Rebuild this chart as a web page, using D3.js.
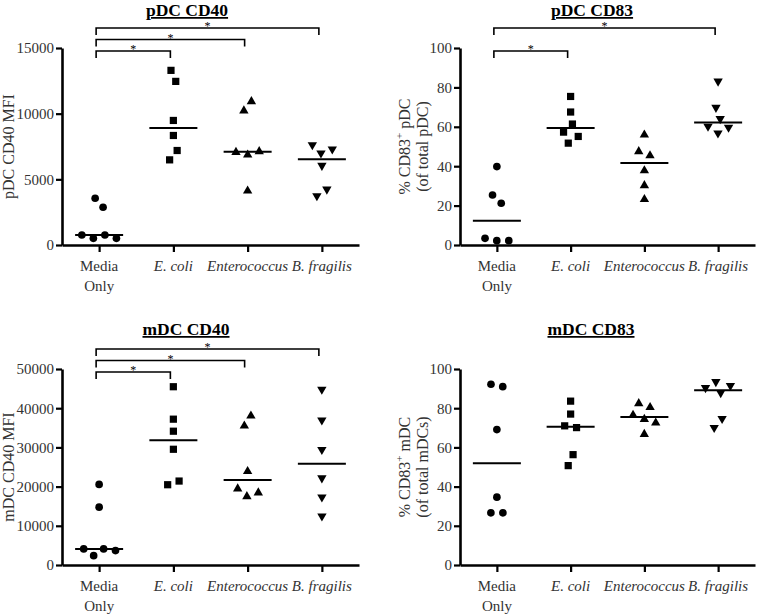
<!DOCTYPE html>
<html><head><meta charset="utf-8">
<script src="https://cdn.jsdelivr.net/npm/d3@7"></script>
<style>body{margin:0;background:#fff}</style>
</head><body><svg id="c" width="758" height="614"></svg>
<script>
// ---------- data ----------
const categories = ["Media Only", "E. coli", "Enterococcus", "B. fragilis"];
const italicCategory = [false, true, true, true];

// each list: values per category, in left-to-right order as drawn
const pdcCD40 = [
  [763, 3559, 508, 2873, 508, 763],
  [13297, 6483, 9483, 8339, 12458, 7195],
  [7068, 10220, 6864, 4119, 10932, 7119],
  [7627, 3737, 6992, 6051, 4246, 7297]
];
const pdcCD83 = [
  [3.4, 25.4, 39.8, 2.2, 21.2, 2.2],
  [57.3, 51.7, 75.4, 67.5, 61.4, 55.1],
  [47.5, 55.9, 37.8, 30.2, 23.2, 45.4],
  [60.2, 83.1, 69.8, 64.1, 56.8, 59.7]
];
const mdcCD40 = [
  [4096, 2389, 20563, 14761, 3669, 4096],
  [20478, 45478, 37201, 34130, 29522, 21416],
  [19454, 35495, 23891, 17491, 38055, 18430],
  [44795, 36945, 29437, 22184, 17321, 12457]
];
const mdcCD83 = [
  [92.2, 26.6, 69.1, 34.6, 91.0, 26.6],
  [71.0, 50.7, 83.6, 77.0, 70.1, 56.3],
  [76.5, 66.7, 82.4, 74.4, 72.5, 80.4],
  [93.5, 90.4, 70.1, 87.9, 74.7, 91.5]
];

const pdcCD40Ticks = [0, 5000, 10000, 15000];
const mdcCD40Ticks = [0, 10000, 20000, 30000, 40000, 50000];
const pctTicks = [0, 20, 40, 60, 80, 100];

// significant comparisons (category index pairs), marked "*"
const pdcCD40Sig = [[0, 1], [0, 2], [0, 3]];
const pdcCD83Sig = [[0, 1], [0, 3]];
const mdcCD40Sig = [[0, 1], [0, 2], [0, 3]];
const mdcCD83Sig = [];

const titles = ["pDC CD40", "pDC CD83", "mDC CD40", "mDC CD83"];
const yLabels = [
  [[{t: "pDC CD40 MFI"}]],
  [[{t: "% CD83"}, {t: "+", sup: true}, {t: " pDC"}], [{t: "(of total pDC)"}]],
  [[{t: "mDC CD40 MFI"}]],
  [[{t: "% CD83"}, {t: "+", sup: true}, {t: " mDC"}], [{t: "(of total mDCs)"}]]
];

// ---------- layout ----------
const FONT = "'Liberation Serif','Times New Roman',Times,serif";
const TXT = "#333";
const panels = [
  {data: pdcCD40, ticks: pdcCD40Ticks, max: 15000, sig: pdcCD40Sig, xr: [62, 359], yr: [245, 48], tx: 187, ty: 16, lx: 14},
  {data: pdcCD83, ticks: pctTicks, max: 100, sig: pdcCD83Sig, xr: [460, 755], yr: [245, 48], tx: 592, ty: 16, lx: 410},
  {data: mdcCD40, ticks: mdcCD40Ticks, max: 50000, sig: mdcCD40Sig, xr: [62, 359], yr: [565, 369], tx: 186, ty: 335, lx: 14},
  {data: mdcCD83, ticks: pctTicks, max: 100, sig: mdcCD83Sig, xr: [460, 755], yr: [565, 369], tx: 591, ty: 335, lx: 410}
];
const shapes = [
  {type: d3.symbolCircle, size: 46, rot: 0},
  {type: d3.symbolSquare, size: 52, rot: 0},
  {type: d3.symbolTriangle, size: 38, rot: 0},
  {type: d3.symbolTriangle, size: 38, rot: 180}
];

const svg = d3.select("#c");

function swarm(vals, cx, y) {
  const n = vals.length;
  const nodes = vals.map((v, i) => ({v, x: cx + (i - (n - 1) / 2) * 1.5, y: y(v), fy: y(v)}));
  const sim = d3.forceSimulation(nodes)
    .force("x", d3.forceX(cx).strength(0.06))
    .force("collide", d3.forceCollide(6).strength(1).iterations(4))
    .stop();
  for (let i = 0; i < 400; i++) sim.tick();
  return nodes;
}

panels.forEach((p, pi) => {
  const g = svg.append("g");
  const x = d3.scalePoint().domain(categories).range(p.xr).padding(0.5);
  const y = d3.scaleLinear().domain([0, p.max]).range(p.yr);

  // y axis
  const ya = g.append("g").attr("transform", `translate(${p.xr[0]},0)`)
    .call(d3.axisLeft(y).tickValues(p.ticks).tickSize(6).tickSizeOuter(0).tickPadding(2).tickFormat(d3.format("d")));
  // x axis
  const xa = g.append("g").attr("transform", `translate(0,${p.yr[0]})`)
    .call(d3.axisBottom(x).tickSize(7).tickSizeOuter(0).tickFormat(""));
  [ya, xa].forEach(a => {
    a.attr("font-family", FONT);
    a.select(".domain").attr("stroke", "#000").attr("stroke-width", 2.6);
    a.selectAll(".tick line").attr("stroke", "#000").attr("stroke-width", 2.2);
  });
  ya.selectAll(".tick text").attr("font-family", FONT).attr("font-size", 15).attr("fill", TXT);

  // category labels
  categories.forEach((c, ci) => {
    const t = g.append("text").attr("x", x(c)).attr("y", p.yr[0] + 26)
      .attr("text-anchor", "middle").attr("font-family", FONT).attr("font-size", 15)
      .attr("fill", TXT).attr("font-style", italicCategory[ci] ? "italic" : "normal");
    if (c === "Media Only") {
      t.append("tspan").attr("x", x(c)).text("Media");
      t.append("tspan").attr("x", x(c)).attr("dy", 20).text("Only");
    } else t.text(c);
  });

  // y label
  const cy = (p.yr[0] + p.yr[1]) / 2;
  const lg = g.append("g").attr("transform", `translate(${p.lx},${cy}) rotate(-90)`);
  yLabels[pi].forEach((line, li) => {
    const t = lg.append("text").attr("x", 0).attr("y", li * 18).attr("text-anchor", "middle")
      .attr("font-family", FONT).attr("font-size", 16).attr("fill", TXT);
    line.forEach(seg => {
      if (seg.sup) t.append("tspan").attr("font-size", 11).attr("dy", -7).text(seg.t);
      else {
        const ts = t.append("tspan").text(seg.t);
        if (t.selectAll("tspan").size() > 1) ts.attr("dy", 7);
      }
    });
  });

  // title
  g.append("text").attr("x", p.tx).attr("y", p.ty).attr("text-anchor", "middle")
    .attr("font-family", FONT).attr("font-size", 17.5).attr("font-weight", "bold")
    .attr("fill", "#000").style("text-decoration", "underline").text(titles[pi]);

  // points and medians
  p.data.forEach((vals, ci) => {
    const cx = x(categories[ci]);
    const nodes = swarm(vals, cx, y);
    const sh = shapes[ci];
    g.selectAll(null).data(nodes).enter().append("path")
      .attr("d", d3.symbol().type(sh.type).size(sh.size)())
      .attr("transform", d => `translate(${d.x},${d.fy}) rotate(${sh.rot})`)
      .attr("fill", "#000");
    const med = d3.median(vals);
    g.append("line").attr("x1", cx - 24).attr("x2", cx + 24)
      .attr("y1", y(med)).attr("y2", y(med)).attr("stroke", "#000").attr("stroke-width", 2);
  });

  // significance brackets
  p.sig.forEach(([a, b]) => {
    const level = b - 1;
    const yl = p.yr[1] + 3 - level * 11.5;
    const x1 = x(categories[a]) - 3, x2 = x(categories[b]) - 3;
    g.append("path").attr("d", `M${x1},${yl + 7}V${yl}H${x2}V${yl + 7}`)
      .attr("fill", "none").attr("stroke", "#000").attr("stroke-width", 1.6);
    g.append("text").attr("x", (x1 + x2) / 2).attr("y", yl + 2).attr("text-anchor", "middle")
      .attr("font-family", FONT).attr("font-size", 12).attr("fill", "#000").text("*");
  });
});
</script>
</body></html>
